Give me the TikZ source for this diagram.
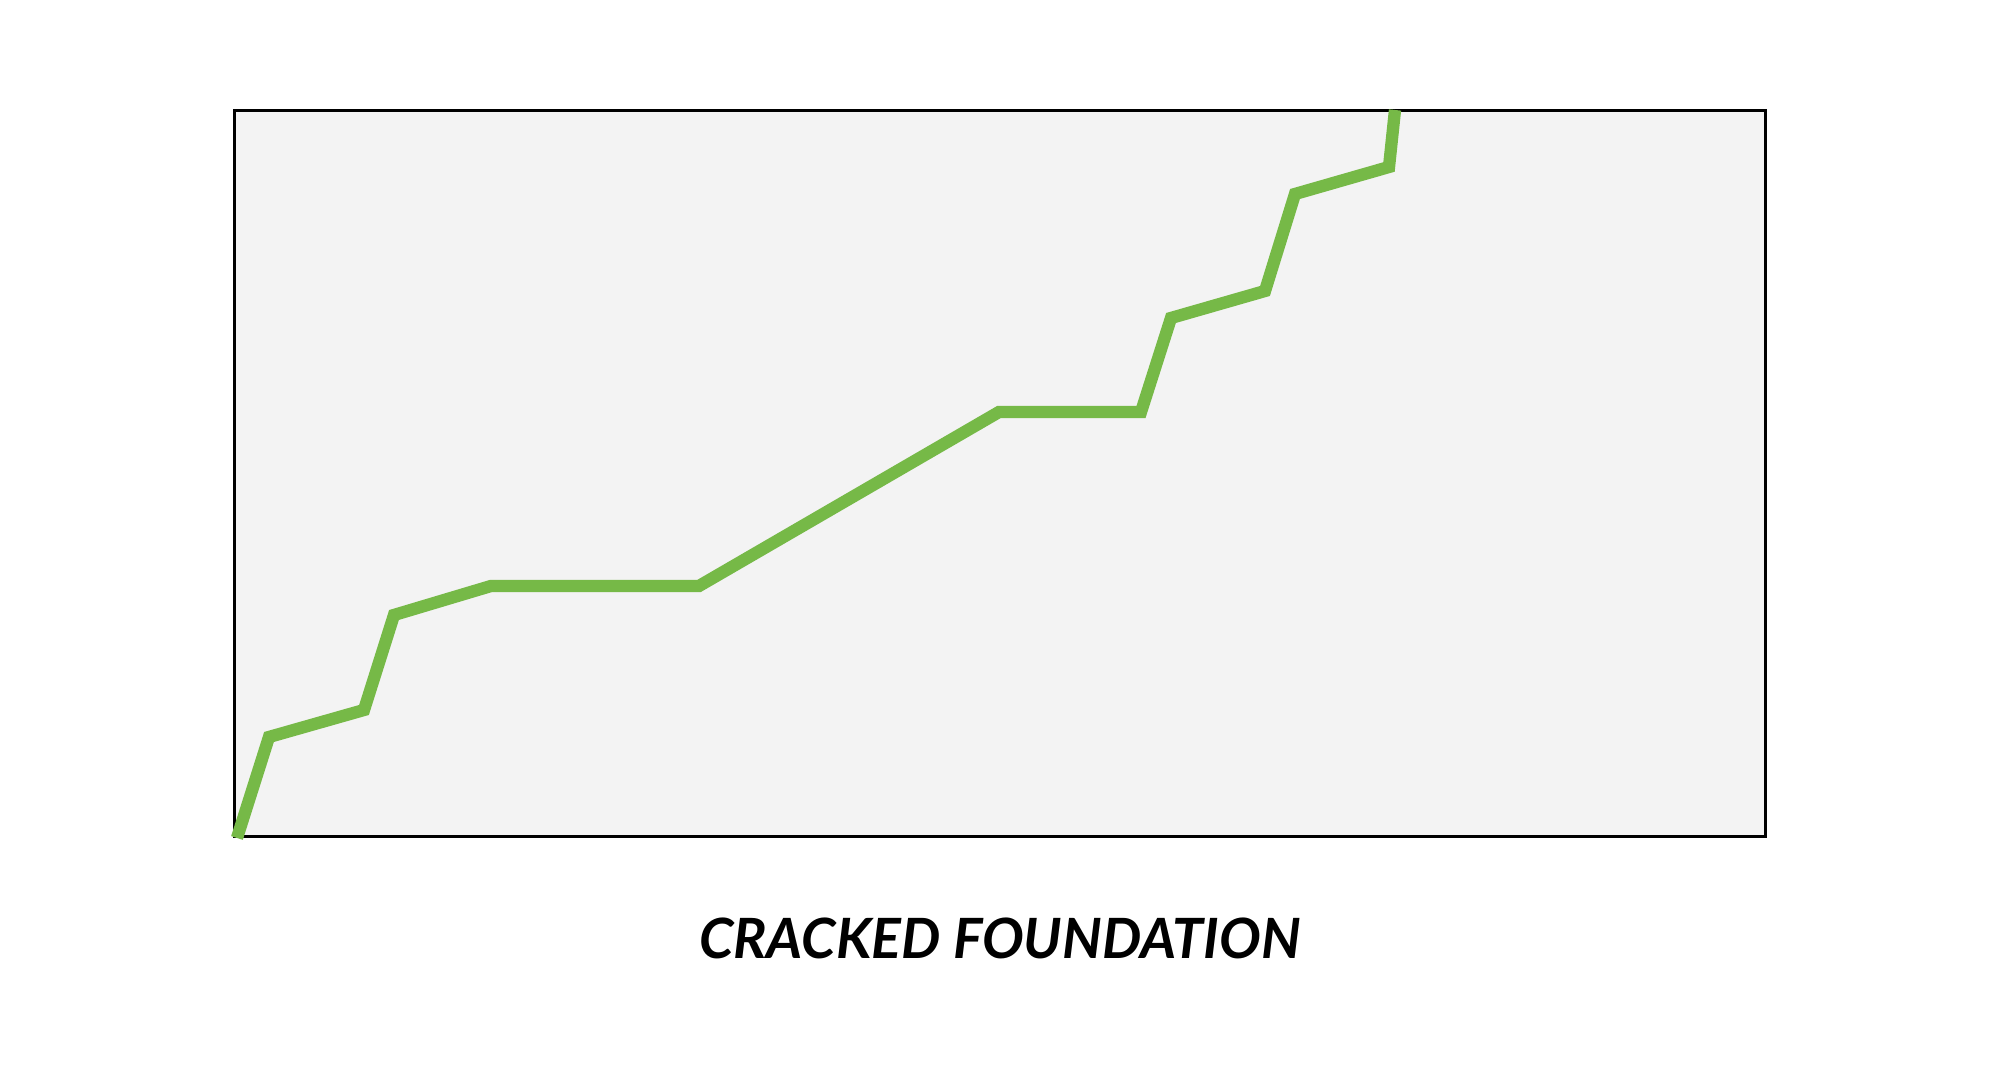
\documentclass[tikz,border=0pt]{standalone}
\usepackage{fontspec}
\setmainfont{Lato}
\usepackage{xcolor}

\definecolor{crackgreen}{RGB}{118,185,71}
\definecolor{slabgray}{RGB}{243,243,243}

\begin{document}
\begin{tikzpicture}[
    slab/.style={draw=black, fill=slabgray, line width=0.85pt},
    crack/.style={draw=crackgreen, line width=3.5pt, line join=miter},
    caption/.style={font=\fontsize{15.8}{19}\selectfont\bfseries\itshape, anchor=base}
  ]

    \useasboundingbox (0, 0) rectangle (20, 10.8);

    % Draw the foundation slab
    \draw[slab] (2.345, 2.43) rectangle (17.65, 9.69);

    % Draw the crack running up through the slab
    \draw[crack] (2.37, 2.42) -- (2.69, 3.43) -- (3.64, 3.70) -- (3.94, 4.65)
        -- (4.91, 4.94) -- (6.99, 4.94) -- (9.99, 6.68) -- (11.41, 6.68)
        -- (11.71, 7.62) -- (12.65, 7.89) -- (12.95, 8.86) -- (13.89, 9.13)
        -- (13.95, 9.70);

    \node[caption] (title) at (10, 1.21) {CRACKED FOUNDATION};

\end{tikzpicture}
\end{document}
